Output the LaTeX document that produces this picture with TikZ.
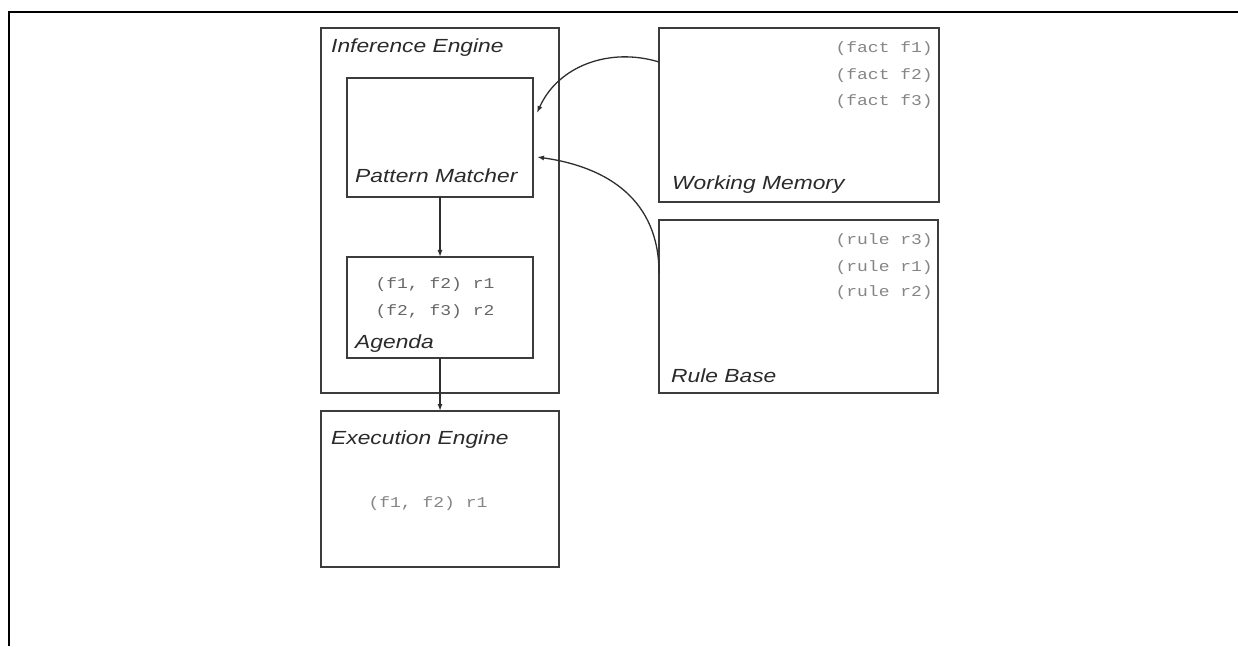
\documentclass[tikz,border=0pt]{standalone}
\usepackage{fontspec}
\setmainfont{Liberation Sans}
\newfontfamily\lblfont[FakeStretch=1.2]{Liberation Sans}
\newfontfamily\codefont[FakeStretch=1.2]{Liberation Mono}
\usetikzlibrary{arrows.meta}
\definecolor{boxc}{HTML}{3C3C3C}
\definecolor{lblc}{HTML}{2A2A2A}
\definecolor{arrc}{HTML}{2E2E2E}
\definecolor{codec}{HTML}{858585}
\definecolor{codeb}{HTML}{666666}
\begin{document}
\begin{tikzpicture}[x=1pt,y=1pt,
  box/.style={draw=boxc, line width=1.8pt, rectangle, inner sep=0pt, outer sep=0pt, anchor=south west},
  lbl/.style={font=\lblfont\itshape\fontsize{19}{22}\selectfont, text=lblc, anchor=base west, inner sep=0pt},
  code/.style={font=\codefont\fontsize{15}{18}\selectfont, text=codec, inner sep=0pt},
  arr/.style={draw=arrc, line width=1.3pt, -{Latex[length=7pt,width=5pt]}}]
\useasboundingbox (0,0) rectangle (1238,646);
% partial outer frame
\draw[line width=2.2pt] (9,0) -- (9,634) -- (1238,634);
% boxes
\node[box, minimum width=238pt, minimum height=365pt] (ie) at (321,253) {};
\node[box, minimum width=186pt, minimum height=119pt] (pm) at (347,449) {};
\node[box, minimum width=186pt, minimum height=101pt] (ag) at (347,288) {};
\node[box, minimum width=238pt, minimum height=156pt] (ee) at (321,79) {};
\node[box, minimum width=280pt, minimum height=174pt] (wm) at (659,444) {};
\node[box, minimum width=279pt, minimum height=173pt] (rb) at (659,253) {};
% labels
\node[lbl] (ielbl) at (331,593) {Inference Engine};
\node[lbl] (pmlbl) at (355,463) {Pattern Matcher};
\node[lbl] (aglbl) at (355,298) {Agenda};
\node[lbl] (eelbl) at (331,202) {Execution Engine};
\node[lbl] (wmlbl) at (672,456) {Working Memory};
\node[lbl] (rblbl) at (671,264) {Rule Base};
% facts
\node[code, anchor=base east] (f1) at (933,593) {(fact f1)};
\node[code, anchor=base east] (f2) at (933,566) {(fact f2)};
\node[code, anchor=base east] (f3) at (933,540) {(fact f3)};
% rules
\node[code, anchor=base east] (r3) at (933,401) {(rule r3)};
\node[code, anchor=base east] (r1) at (933,374) {(rule r1)};
\node[code, anchor=base east] (r2) at (933,349) {(rule r2)};
% agenda items
\node[code, text=codeb, anchor=base] (a1) at (435,358) {(f1, f2) r1};
\node[code, text=codeb, anchor=base] (a2) at (435,331) {(f2, f3) r2};
% execution
\node[code, anchor=base] (x1) at (428,139) {(f1, f2) r1};
% arrows
\draw[arr] (pm.south) -- (ag.north);
\draw[arr] (ag.south) -- (ee.north);
\draw[arr] ([yshift=-34pt]wm.north west) to[out=163,in=66] ([xshift=4pt,yshift=-35pt]pm.north east);
\draw[arr] ([yshift=-53pt]rb.north west) to[out=90,in=-8,looseness=1.1] ([xshift=4pt,yshift=-79pt]pm.north east);
\end{tikzpicture}
\end{document}
